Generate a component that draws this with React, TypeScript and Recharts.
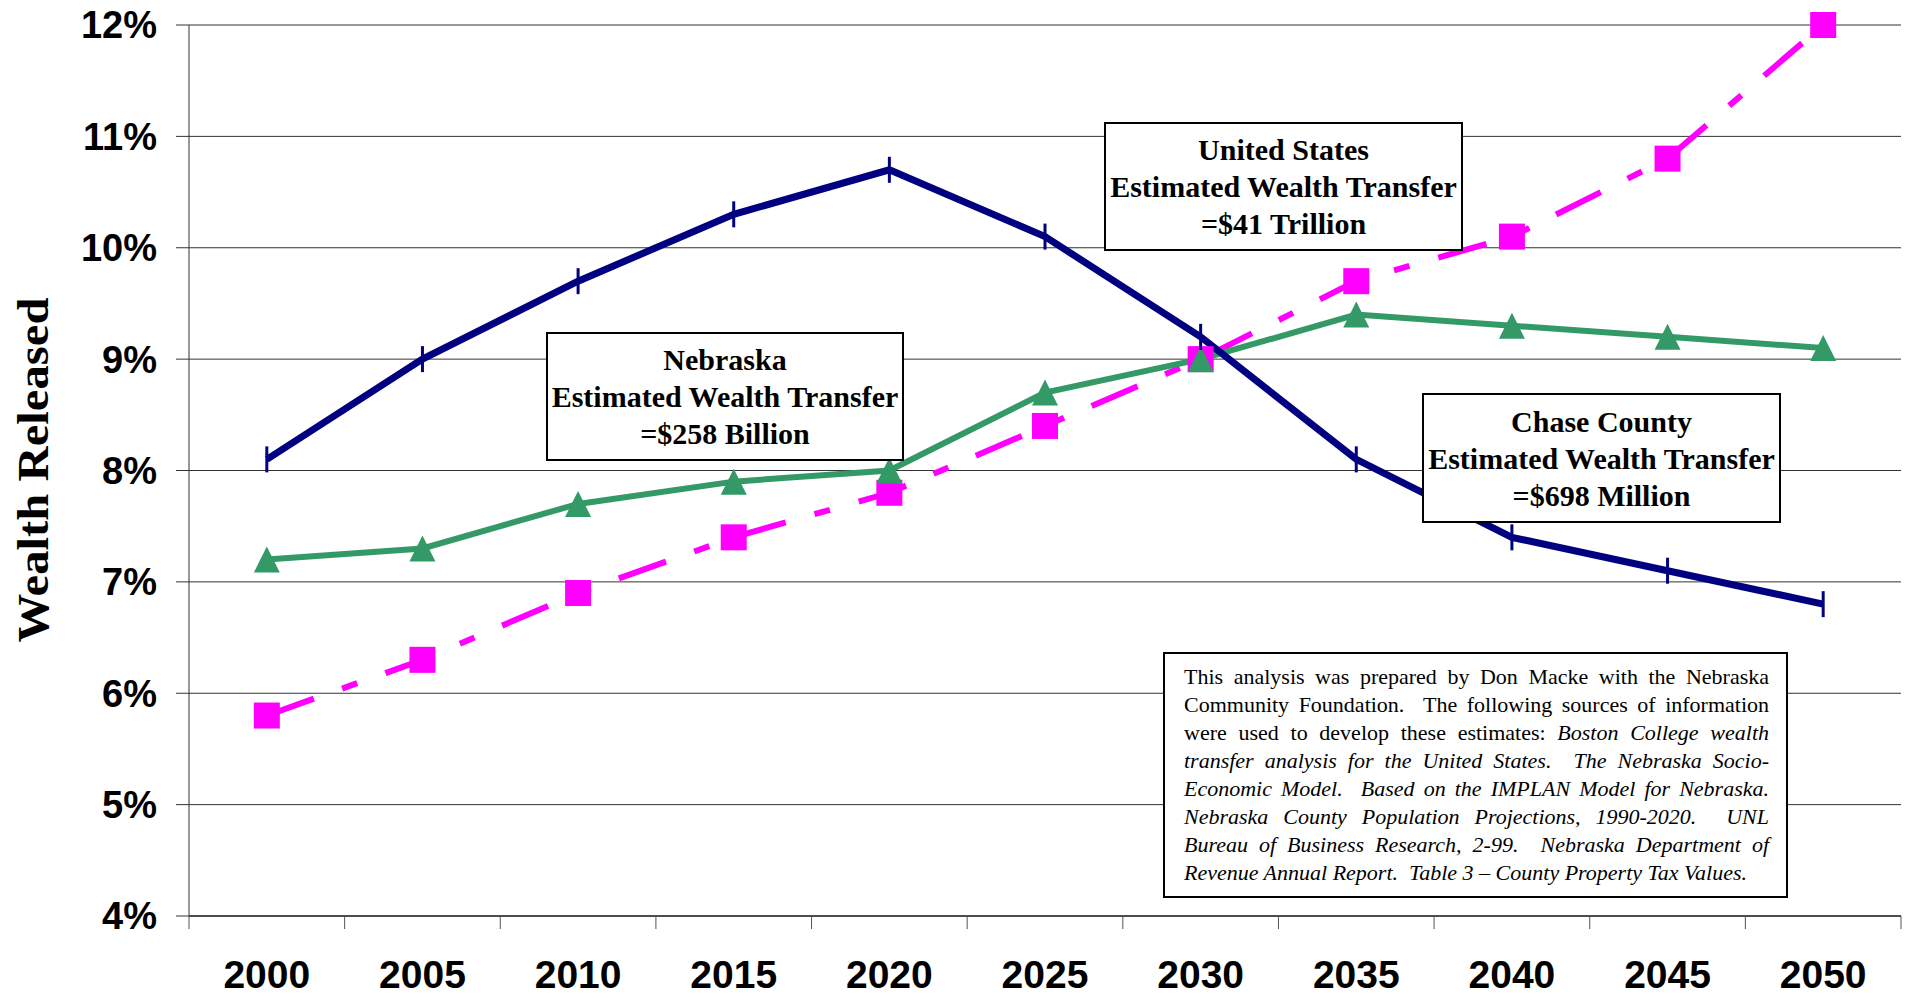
import React from 'react';
import { LineChart, Line, XAxis, YAxis, CartesianGrid } from 'recharts';

const years = [2000, 2005, 2010, 2015, 2020, 2025, 2030, 2035, 2040, 2045, 2050];
const navyValues = [8.1, 9.0, 9.7, 10.3, 10.7, 10.1, 9.2, 8.1, 7.4, 7.1, 6.8];
const greenValues = [7.2, 7.3, 7.7, 7.9, 8.0, 8.7, 9.0, 9.4, 9.3, 9.2, 9.1];
const magentaValues = [5.8, 6.3, 6.9, 7.4, 7.8, 8.4, 9.0, 9.7, 10.1, 10.8, 12.0];
const yTicks = [4, 5, 6, 7, 8, 9, 10, 11, 12];

const W = 1910;
const H = 995;
const Y_AXIS_W = 189;
const MARGIN = { top: 25, right: 9, bottom: 0, left: 0 };
const PLOT_W = W - Y_AXIS_W - MARGIN.right;
const HALF_BAND = PLOT_W / years.length / 2;

const SANS = "'Liberation Sans', Arial, sans-serif";
const SERIF = "'Liberation Serif', 'Times New Roman', serif";

const data = years.map((year, i) => ({
  year,
  navy: navyValues[i],
  green: greenValues[i],
  magenta: magentaValues[i],
}));

const SquareDot = ({ cx, cy, index }: any) => (
  <rect key={`sq-${index}`} x={cx - 13} y={cy - 13} width={26} height={26} fill="#FF00FF" />
);

const TriangleDot = ({ cx, cy, index }: any) => (
  <polygon
    key={`tr-${index}`}
    points={`${cx},${cy - 13} ${cx + 13},${cy + 13} ${cx - 13},${cy + 13}`}
    fill="#339966"
  />
);

const DashDot = ({ cx, cy, index }: any) => (
  <line key={`ds-${index}`} x1={cx} x2={cx} y1={cy - 13} y2={cy + 13} stroke="#000080" strokeWidth={3} />
);

const XTick = ({ x, y, payload }: any) => (
  <g>
    <line x1={x - HALF_BAND} x2={x - HALF_BAND} y1={y - 13} y2={y} stroke="#555" />
    {payload.value === years[years.length - 1] && (
      <line x1={x + HALF_BAND} x2={x + HALF_BAND} y1={y - 13} y2={y} stroke="#555" />
    )}
    <text x={x} y={y + 59} textAnchor="middle" fontFamily={SANS} fontWeight="bold" fontSize={39} fill="#000">
      {payload.value}
    </text>
  </g>
);

const boxStyle: React.CSSProperties = {
  position: 'absolute',
  background: '#fff',
  border: '2px solid #000',
  boxSizing: 'border-box',
  display: 'flex',
  flexDirection: 'column',
  justifyContent: 'center',
  alignItems: 'center',
  fontFamily: SERIF,
  fontWeight: 'bold',
  fontSize: 30,
  lineHeight: '37px',
  color: '#000',
  whiteSpace: 'nowrap',
};

const TitleBox = ({ left, top, width, height, lines }: any) => (
  <div style={{ ...boxStyle, left, top, width, height }}>
    {lines.map((l: string) => (
      <div key={l}>{l}</div>
    ))}
  </div>
);

const justify: React.CSSProperties = { textAlign: 'justify', textAlignLast: 'justify' };
const it: React.CSSProperties = { fontStyle: 'italic' };

export default function App() {
  return (
    <div style={{ position: 'absolute', left: 0, top: 0, width: W, height: H, background: '#fff' }}>
      <LineChart width={W} height={H} data={data} margin={MARGIN}>
        <CartesianGrid vertical={false} stroke="#333" />
        <XAxis
          dataKey="year"
          type="number"
          domain={[1997.5, 2052.5]}
          ticks={years}
          height={79}
          tickSize={13}
          tickMargin={0}
          tickLine={false}
          axisLine={{ stroke: '#000' }}
          tick={<XTick />}
        />
        <YAxis
          type="number"
          domain={[4, 12]}
          ticks={yTicks}
          width={Y_AXIS_W}
          tickSize={13}
          tickMargin={19}
          axisLine={{ stroke: '#333' }}
          tickLine={{ stroke: '#333' }}
          tickFormatter={(v) => `${v}%`}
          tick={{ fontFamily: SANS, fontWeight: 'bold', fontSize: 38, fill: '#000' }}
        />
        <Line
          dataKey="magenta"
          stroke="#FF00FF"
          strokeWidth={6}
          strokeDasharray="50 30 16 30"
          dot={<SquareDot />}
          activeDot={false}
          isAnimationActive={false}
        />
        <Line
          dataKey="green"
          stroke="#339966"
          strokeWidth={6}
          dot={<TriangleDot />}
          activeDot={false}
          isAnimationActive={false}
        />
        <Line
          dataKey="navy"
          stroke="#000080"
          strokeWidth={7}
          dot={<DashDot />}
          activeDot={false}
          isAnimationActive={false}
        />
      </LineChart>

      <svg style={{ position: 'absolute', left: 0, top: 0 }} width={100} height={H}>
        <text
          x={48}
          y={470}
          transform="rotate(-90 48 470)"
          textAnchor="middle"
          fontFamily={SERIF}
          fontWeight="bold"
          fontSize={44}
          textLength={345}
          lengthAdjust="spacingAndGlyphs"
          fill="#000"
        >
          Wealth Released
        </text>
      </svg>

      <TitleBox
        left={546}
        top={332}
        width={358}
        height={129}
        lines={['Nebraska', 'Estimated Wealth Transfer', '=$258 Billion']}
      />
      <TitleBox
        left={1104}
        top={122}
        width={359}
        height={129}
        lines={['United States', 'Estimated Wealth Transfer', '=$41 Trillion']}
      />
      <TitleBox
        left={1422}
        top={393}
        width={359}
        height={130}
        lines={['Chase County', 'Estimated Wealth Transfer', '=$698 Million']}
      />

      <div
        style={{
          position: 'absolute',
          left: 1163,
          top: 652,
          width: 625,
          height: 246,
          boxSizing: 'border-box',
          border: '2px solid #000',
          background: '#fff',
          padding: '0 17px 0 19px',
          display: 'flex',
          flexDirection: 'column',
          justifyContent: 'center',
          fontFamily: SERIF,
          fontSize: 22,
          lineHeight: '28px',
          color: '#000',
        }}
      >
        <div style={justify}>This analysis was prepared by Don Macke with the Nebraska</div>
        <div style={justify}>Community Foundation.{'\u00a0 '}The following sources of information</div>
        <div style={justify}>
          were used to develop these estimates: <span style={it}>Boston College wealth</span>
        </div>
        <div style={{ ...justify, ...it }}>transfer analysis for the United States.{'\u00a0 '}The Nebraska Socio-</div>
        <div style={{ ...justify, ...it }}>Economic Model.{'\u00a0 '}Based on the IMPLAN Model for Nebraska.</div>
        <div style={{ ...justify, ...it }}>Nebraska County Population Projections, 1990-2020.{'\u00a0 '}UNL</div>
        <div style={{ ...justify, ...it }}>Bureau of Business Research, 2-99.{'\u00a0 '}Nebraska Department of</div>
        <div style={it}>Revenue Annual Report.{'\u00a0 '}Table 3 – County Property Tax Values.</div>
      </div>
    </div>
  );
}
